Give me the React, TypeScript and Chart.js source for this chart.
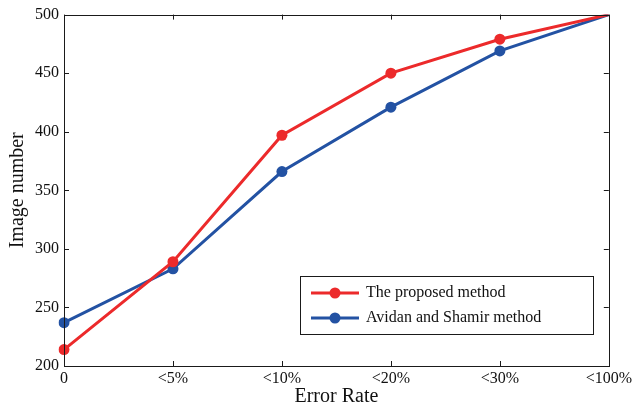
import React, { useEffect, useRef } from "react";
import { Chart, registerables } from "chart.js";

Chart.register(...registerables);

const categories = ["0", "<5%", "<10%", "<20%", "<30%", "<100%"];
const proposed = [214, 289, 397, 450, 479, 500];
const avidan = [237, 283, 366, 421, 469, 500];
const yTicks = [200, 250, 300, 350, 400, 450, 500];
const xTitle = "Error Rate";
const yTitle = "Image number";

const FONT = "'Liberation Serif', 'Times New Roman', serif";
const RED = "#EC2A2B";
const BLUE = "#2352A3";

const frameAndLegend = {
  id: "frameAndLegend",
  afterDatasetsDraw(chart: any) {
    const ctx = chart.ctx;
    const a = chart.chartArea;
    const xs = chart.scales.x;
    const ys = chart.scales.y;
    ctx.save();
    ctx.strokeStyle = "#1a1a1a";
    ctx.lineWidth = 1;
    ctx.strokeRect(Math.round(a.left) + 0.5, Math.round(a.top) + 0.5, Math.round(a.right - a.left), Math.round(a.bottom - a.top));
    const tl = 5;
    ctx.beginPath();
    for (let i = 0; i < categories.length; i++) {
      const x = Math.round(xs.getPixelForValue(i)) + 0.5;
      ctx.moveTo(x, a.bottom);
      ctx.lineTo(x, a.bottom - tl);
      ctx.moveTo(x, a.top);
      ctx.lineTo(x, a.top + tl);
    }
    for (const v of yTicks) {
      const y = Math.round(ys.getPixelForValue(v)) + 0.5;
      ctx.moveTo(a.left, y);
      ctx.lineTo(a.left + tl, y);
      ctx.moveTo(a.right, y);
      ctx.lineTo(a.right - tl, y);
    }
    ctx.stroke();

    // axis titles
    ctx.fillStyle = "#111";
    ctx.font = `20px ${FONT}`;
    ctx.textAlign = "center";
    ctx.textBaseline = "middle";
    ctx.fillText(xTitle, (a.left + a.right) / 2, 397);
    ctx.save();
    ctx.translate(18, (a.top + a.bottom) / 2);
    ctx.rotate(-Math.PI / 2);
    ctx.fillText(yTitle, 0, 0);
    ctx.restore();

    // legend
    const bx = 300, by = 276, bw = 293, bh = 58;
    ctx.fillStyle = "#ffffff";
    ctx.fillRect(bx, by, bw, bh);
    ctx.strokeStyle = "#1a1a1a";
    ctx.lineWidth = 1;
    ctx.strokeRect(bx + 0.5, by + 0.5, bw, bh);
    const rows = [293, 318];
    chart.data.datasets.forEach((ds: any, i: number) => {
      const y = rows[i];
      ctx.strokeStyle = ds.borderColor;
      ctx.lineWidth = 3;
      ctx.beginPath();
      ctx.moveTo(311, y);
      ctx.lineTo(359, y);
      ctx.stroke();
      ctx.fillStyle = ds.borderColor;
      ctx.beginPath();
      ctx.arc(335, y, 5.5, 0, Math.PI * 2);
      ctx.fill();
      ctx.fillStyle = "#111";
      ctx.font = `16px ${FONT}`;
      ctx.textBaseline = "middle";
      ctx.textAlign = "left";
      ctx.fillText(ds.label, 366, y);
    });
    ctx.restore();
  },
};

export default function App() {
  const ref = useRef<HTMLCanvasElement>(null);
  useEffect(() => {
    document.body.style.margin = "0";
    const chart = new Chart(ref.current!, {
      type: "line",
      data: {
        labels: categories,
        datasets: [
          {
            label: "The proposed method",
            data: proposed,
            borderColor: RED,
            backgroundColor: RED,
            borderWidth: 3,
            pointRadius: [5.5, 5.5, 5.5, 5.5, 5.5, 0],
            pointBorderWidth: 0,
            tension: 0,
          },
          {
            label: "Avidan and Shamir method",
            data: avidan,
            borderColor: BLUE,
            backgroundColor: BLUE,
            borderWidth: 3,
            pointRadius: [5.5, 5.5, 5.5, 5.5, 5.5, 0],
            pointBorderWidth: 0,
            tension: 0,
          },
        ],
      },
      plugins: [frameAndLegend],
      options: {
        responsive: false,
        animation: false,
        layout: { padding: { top: 13, right: 25, left: 0, bottom: 0 } },
        plugins: { legend: { display: false }, tooltip: { enabled: false } },
        scales: {
          x: {
            type: "category",
            offset: false,
            grid: { display: false, drawTicks: false },
            border: { display: false },
            ticks: { color: "#111", font: { family: FONT, size: 16 }, padding: 3, maxRotation: 0, autoSkip: false },
            title: { display: false },
            afterFit: (s: any) => { s.height = 39; },
          },
          y: {
            min: 200,
            max: 500,
            afterBuildTicks: (s: any) => { s.ticks = yTicks.map((v) => ({ value: v })); },
            grid: { display: false, drawTicks: false },
            border: { display: false },
            ticks: { color: "#111", font: { family: FONT, size: 16 }, padding: 5 },
            title: { display: false },
            afterFit: (s: any) => { s.width = 64; },
          },
        },
      },
    } as any);
    return () => chart.destroy();
  }, []);
  return (
    <div style={{ width: 635, height: 405 }}>
      <canvas ref={ref} width={635} height={405} />
    </div>
  );
}
